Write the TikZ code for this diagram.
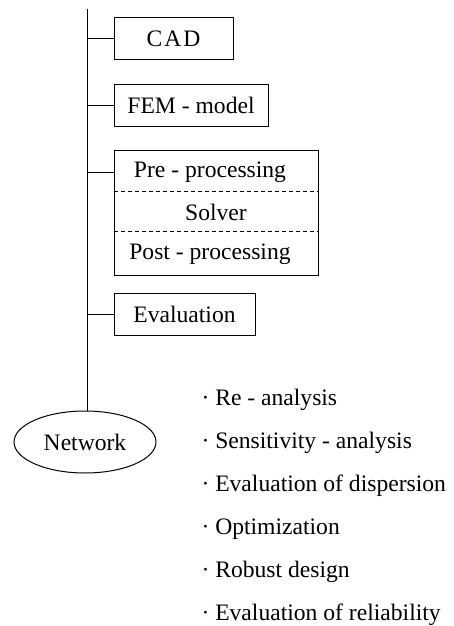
\documentclass[tikz,border=0pt]{standalone}
\usepackage{fontspec}
\setmainfont{Liberation Serif}
\usetikzlibrary{shapes.geometric}
\begin{document}
\begin{tikzpicture}[x=1pt, y=-1pt, line width=1pt,
    font=\fontsize{23.6}{28}\selectfont,
    box/.style={draw, rectangle, inner sep=0pt, minimum height=42pt},
    txt/.style={inner sep=0pt},
    item/.style={inner sep=0pt, anchor=base west}]
        \useasboundingbox (0,0) rectangle (453,626);
        \coordinate (top) at (87,9);
        \node[box, minimum width=119pt] (cad) at (173.5,39) {\addfontfeatures{LetterSpace=8}CAD};
        \node[box, minimum width=154pt] (fem) at (191,105) {FEM - model};
        \node[box, minimum width=204pt, minimum height=125pt] (proc) at (216,212.5) {};
        \node[txt] (pre) at (210,172) {Pre - processing};
        \node[txt] (solver) at (216,212) {Solver};
        \node[txt] (post) at (210,254) {Post - processing};
        \coordinate (d1) at (216,191);
        \coordinate (d2) at (216,231);
        \node[box, minimum width=141pt] (eval) at (184.5,314) {Evaluation};
        \node[draw, ellipse, inner sep=0pt, minimum width=142pt, minimum height=62pt] (net) at (85,442) {Network};
        \draw (top) -- (top |- net.north);
        \draw (cad.west) -- (cad.west -| top);
        \draw (fem.west) -- (fem.west -| top);
        \draw (pre.west -| proc.west) -- (pre.west -| top);
        \draw (eval.west) -- (eval.west -| top);
        \draw[dash pattern=on 4pt off 3pt, line width=0.8pt] (d1 -| proc.west) -- (d1 -| proc.east);
        \draw[dash pattern=on 4pt off 3pt, line width=0.8pt] (d2 -| proc.west) -- (d2 -| proc.east);
        \node[item] (re) at (201,405) {· Re - analysis};
        \node[item] (sens) at (201,448) {· Sensitivity - analysis};
        \node[item] (disp) at (201,491) {· Evaluation of dispersion};
        \node[item] (opt) at (201,534) {· Optimization};
        \node[item] (rob) at (201,577) {· Robust design};
        \node[item] (rel) at (201,620) {· Evaluation of reliability};
\end{tikzpicture}
\end{document}
